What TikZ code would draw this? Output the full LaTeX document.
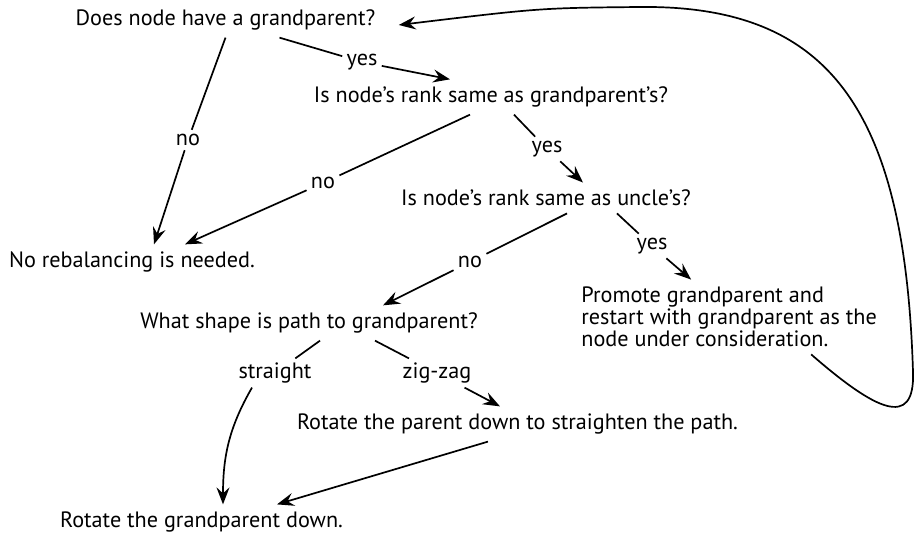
\documentclass[tikz,border=0pt]{standalone}
\usepackage{fontspec}
\setmainfont{PT Sans}
\usepackage{tikz}
\usetikzlibrary{positioning,arrows.meta,calc}

\begin{document}
\begin{tikzpicture}[
  x=0.5pt, y=-0.5pt, >={Stealth[length=8.5pt,width=6.5pt,inset=3pt]},
  every node/.style={font=\fontsize{11.1}{11}\selectfont},
  question/.style={inner sep=3.5pt, align=left},
  answer/.style={inner sep=2pt},
  link/.style={line width=0.85pt},
  flow/.style={->, line width=0.85pt},
]
  \useasboundingbox (0,0) rectangle (915,533);

  \node[question] (grand-check) at (225.5,20) {Does node have a grandparent?};
  \node[question] (rank-grand) at (491,97) {Is node’s rank same as grandparent’s?};
  \node[question] (rank-uncle) at (546,198) {Is node’s rank same as uncle’s?};
  \node[question] (no-rebal) at (132,262) {No rebalancing is needed.};
  \node[question, anchor=west] (promote) at (574,317) {Promote grandparent and\\restart with grandparent as the\\node under consideration.};
  \node[question] (path-shape) at (309,323) {What shape is path to grandparent?};
  \node[question] (rot-parent) at (517.5,424) {Rotate the parent down to straighten the path.};
  \node[question] (rot-grand) at (201.5,522) {Rotate the grandparent down.};

  \node[answer] (grand-no) at (188,140) {no};
  \node[answer] (grand-yes) at (362,62) {yes};
  \node[answer] (rank-no) at (323,183) {no};
  \node[answer] (rank-yes) at (547,149) {yes};
  \node[answer] (uncle-no) at (470,262) {no};
  \node[answer] (uncle-yes) at (652,246) {yes};
  \node[answer] (shape-straight) at (275,373) {straight};
  \node[answer] (shape-zigzag) at (437,373) {zig-zag};

  \draw[link] (grand-check.south) -- (grand-no);
  \draw[flow] (grand-no) -- ([xshift=11pt]no-rebal.north);
  \draw[link] ([xshift=27pt]grand-check.south) -- (grand-yes);
  \draw[flow] (grand-yes) -- ([xshift=-20.5pt]rank-grand.north);

  \draw[link] ([xshift=-10.5pt]rank-grand.south) -- (rank-no);
  \draw[flow] (rank-no) -- ([xshift=26.5pt]no-rebal.north);
  \draw[link] ([xshift=11.5pt]rank-grand.south) -- (rank-yes);
  \draw[flow] (rank-yes) -- ([xshift=18.5pt]rank-uncle.north);

  \draw[link] ([xshift=10.5pt]rank-uncle.south) -- (uncle-no);
  \draw[flow] (uncle-no) -- ([xshift=37pt]path-shape.north);
  \draw[link] ([xshift=35.5pt]rank-uncle.south) -- (uncle-yes);
  \draw[flow] (uncle-yes) -- ([xshift=-19pt]promote.north);

  \draw[link] ([xshift=5.5pt]path-shape.south) -- (shape-straight);
  \draw[flow] ([xshift=-11.5pt]shape-straight.south) to[out=-120, in=90] ([xshift=10.75pt]rot-grand.north);
  \draw[link] ([xshift=33pt]path-shape.south) -- (shape-zigzag);
  \draw[flow] (shape-zigzag) -- ([xshift=-8.75pt]rot-parent.north);
  \draw[flow] ([xshift=-14.75pt]rot-parent.south) -- ([xshift=37.75pt]rot-grand.north);

  % back to the top
  \coordinate (loop-turn) at (913,372);
  \coordinate (loop-top) at (640,7);
  \draw[flow] ([xshift=41pt]promote.south) .. controls (875,410) and (915,430) .. (loop-turn)
    .. controls (905,110) and (830,5) .. (loop-top)
    .. controls (540,8) .. ([xshift=8pt,yshift=-2.5pt]grand-check.east);
\end{tikzpicture}
\end{document}
